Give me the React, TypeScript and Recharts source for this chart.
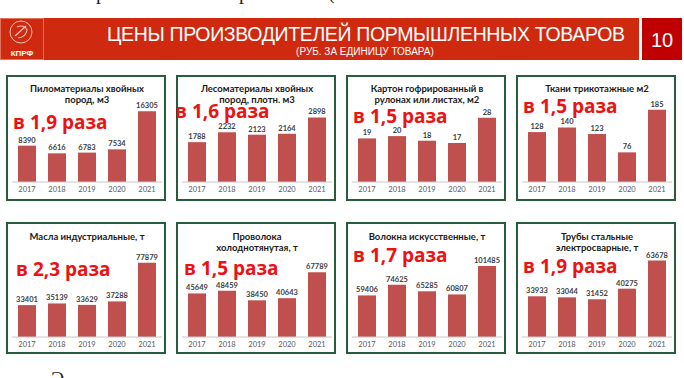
import { BarChart, Bar, XAxis, YAxis, LabelList } from "recharts";

const years = ["2017", "2018", "2019", "2020", "2021"];

const lumberValues = [8390, 6616, 6783, 7534, 16305];
const timberValues = [1788, 2232, 2123, 2164, 2898];
const cardboardValues = [19, 20, 18, 17, 28];
const knitValues = [128, 140, 123, 76, 185];
const oilValues = [33401, 35139, 33629, 37288, 77879];
const wireValues = [45649, 48459, 38450, 40643, 67789];
const fiberValues = [59406, 74625, 65285, 60807, 101485];
const pipeValues = [33933, 33044, 31452, 40275, 63678];

const titles = [
  ["Пиломатериалы хвойных", "пород, м3"],
  ["Лесоматериалы хвойных", "пород, плотн. м3"],
  ["Картон гофрированный в", "рулонах или листах, м2"],
  ["Ткани трикотажные м2"],
  ["Масла индустриальные, т"],
  ["Проволока", "холоднотянутая, т"],
  ["Волокна искусственные, т"],
  ["Трубы стальные", "электросварные, т"],
];
const ratios = ["в 1,9 раза", "в 1,6 раза", "в 1,5 раза", "в 1,5 раза", "в 2,3 раза", "в 1,5 раза", "в 1,7 раза", "в 1,9 раза"];
const seriesList = [lumberValues, timberValues, cardboardValues, knitValues, oilValues, wireValues, fiberValues, pipeValues];
const axisMax = [18000, 3500, 34, 200, 88000, 88000, 120000, 70000];

// layout of the slide
const panelLefts = [6, 176, 346, 516];
const rowTop = [75, 222];
const rowHeight = [126, 132];
const chartTop = [96, 245];
const chartHeight = [104, 110];
const ratioPos = [
  [7, 54], [-1, 43], [7, 48], [7, 38],
  [10, 54], [8, 53], [7, 40], [7, 51],
];

const BAR = "#c0504d";
const GREEN = "#275c3c";
const FONT = "Lato, 'Liberation Sans', sans-serif";

function Panel({ idx }: { idx: number }) {
  const row = idx < 4 ? 0 : 1;
  const left = panelLefts[idx % 4];
  const data = years.map((y, i) => ({ year: y, v: seriesList[idx][i] }));
  return (
    <>
      <div
        style={{
          position: "absolute",
          left,
          top: rowTop[row],
          width: 160,
          height: rowHeight[row],
          border: `2px solid ${GREEN}`,
          boxSizing: "border-box",
          background: "#fff",
        }}
      />
      <div style={{ position: "absolute", left, top: chartTop[row] }}>
        <BarChart
          width={160}
          height={chartHeight[row]}
          data={data}
          margin={{ top: 8, right: 4, bottom: 0, left: 6 }}
          barCategoryGap="20%"
        >
          <XAxis
            dataKey="year"
            height={18}
            axisLine={{ stroke: "#c8c8c8" }}
            tickLine={false}
            tickSize={3}
            tickMargin={2}
            tick={{ fontSize: 7.5, fill: "#595959", fontFamily: FONT }}
            interval={0}
          />
          <YAxis hide domain={[0, axisMax[idx]]} />
          <Bar dataKey="v" fill={BAR} isAnimationActive={false}>
            <LabelList
              dataKey="v"
              position="top"
              offset={3}
              style={{ fontSize: 7.5, fontWeight: 700, fill: "#404040", fontFamily: FONT }}
            />
          </Bar>
        </BarChart>
      </div>
    </>
  );
}

export default function App() {
  return (
    <div
      style={{
        position: "absolute",
        left: 0,
        top: 0,
        width: 684,
        height: 378,
        background: "#fff",
        overflow: "hidden",
      }}
    >
      {seriesList.map((_, i) => (
        <Panel key={i} idx={i} />
      ))}
      <svg width={684} height={378} style={{ position: "absolute", left: 0, top: 0, pointerEvents: "none" }}>
        {/* text fragments of the page around the slide */}
        <g fontFamily="'Liberation Serif', serif" fontSize={20} fill="#222">
          <text x={96} y={-1}>р</text>
          <text x={239} y={-1}>р</text>
          <text x={328} y={-1}>(</text>
          <text x={51} y={386}>Э</text>
        </g>

        {/* header */}
        <rect x={0} y={18} width={639} height={42} fill="#cf2a10" />
        <rect x={0.5} y={18.5} width={43} height={41} fill="none" stroke="#e0745e" strokeWidth={1} />
        <circle cx={21} cy={32} r={11} fill="none" stroke="#f3c2b6" strokeWidth={1} />
        <path d="M15 36 L26 26 M17 27 Q24 24 27 30 Q26 37 18 38" fill="none" stroke="#f3c2b6" strokeWidth={1.2} />
        <text x={22} y={56} textAnchor="middle" fontSize={8} fontWeight={700} fill="#fff" fontFamily="'Liberation Sans', sans-serif">
          КПРФ
        </text>
        <text x={366} y={41} textAnchor="middle" fontSize={19.5} fill="#fff" fontFamily="'Liberation Sans', sans-serif" textLength={518}>
          ЦЕНЫ ПРОИЗВОДИТЕЛЕЙ ПОРМЫШЛЕННЫХ ТОВАРОВ
        </text>
        <text x={365} y={55} textAnchor="middle" fontSize={10} fill="#fff" fontFamily="'Liberation Sans', sans-serif">
          (РУБ. ЗА ЕДИНИЦУ ТОВАРА)
        </text>
        <rect x={642} y={18} width={40} height={42} fill="#c00000" />
        <text x={662} y={47} textAnchor="middle" fontSize={20} fill="#fff" fontFamily="'Liberation Sans', sans-serif">
          10
        </text>

        {/* panel titles and growth ratios */}
        {titles.map((lines, i) => {
          const row = i < 4 ? 0 : 1;
          const cx = panelLefts[i % 4] + 81;
          const base = row === 0 ? 92 : 240;
          return lines.map((t, j) => (
            <text
              key={`${i}-${j}`}
              x={cx}
              y={base + j * 10.5}
              textAnchor="middle"
              fontSize={9.5}
              fontWeight={700}
              fill="#1a1a1a"
              fontFamily={FONT}
            >
              {t}
            </text>
          ));
        })}
        {ratios.map((r, i) => {
          const row = i < 4 ? 0 : 1;
          return (
            <text
              key={`r${i}`}
              x={panelLefts[i % 4] + ratioPos[i][0]}
              y={rowTop[row] + ratioPos[i][1]}
              fontSize={19}
              fontWeight={700}
              fill="#ee1111"
              fontFamily="'Open Sans', sans-serif"
            >
              {r}
            </text>
          );
        })}
      </svg>
    </div>
  );
}
